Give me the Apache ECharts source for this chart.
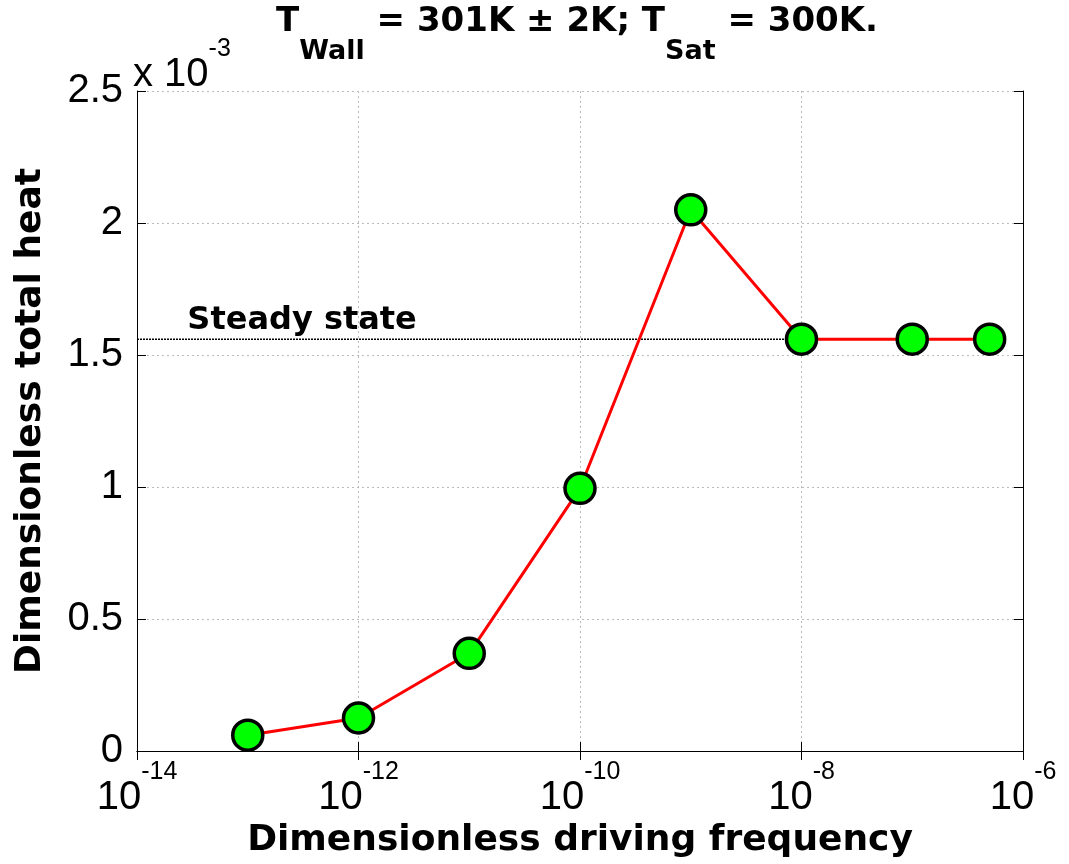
<!DOCTYPE html>
<html>
<head>
<meta charset="utf-8">
<script src="https://cdn.jsdelivr.net/npm/echarts@6/dist/echarts.min.js"></script>
<style>
html,body{margin:0;padding:0;background:#fff;}
#chart{width:1069px;height:864px;}
</style>
</head>
<body>
<div id="chart"></div>
<script>
// driving frequency (dimensionless) and total heat (dimensionless)
var freq = [1e-13, 1e-12, 1e-11, 1e-10, 1e-9, 1e-8, 1e-7, 5e-7];
var heat = [0.00006, 0.000125, 0.00037, 0.000995, 0.00205, 0.00156, 0.00156, 0.00156];
var steadyState = 0.00156;
var steadyFrom = [1e-14, 1e-8];

var FONT = '"Liberation Sans", Arial, Helvetica, sans-serif';
var BOLD = '"DejaVu Sans", "Liberation Sans", sans-serif';

var pts = [];
for (var i = 0; i < freq.length; i++) pts.push([freq[i], heat[i]]);

function xLabel(v){
	var e = Math.round(Math.log(v) / Math.LN10);
	return '{b|10}{s|' + e + '}';
}
function yLabel(v){
	return String(Math.round(v * 1e4) / 10);
}

var option = {
	backgroundColor: '#fff',
	animation: false,
	grid: {left: 137, right: 46, top: 91, bottom: 113, containLabel: false},
	xAxis: [{
		type: 'log',
		logBase: 10,
		min: 1e-14,
		max: 1e-6,
		interval: 2,
		name: 'Dimensionless driving frequency',
		nameLocation: 'middle',
		nameGap: 72,
		nameTextStyle: {fontFamily: BOLD, fontSize: 36, fontWeight: 'bold', color: '#000'},
		axisLine: {lineStyle: {color: '#000', width: 1}},
		axisTick: {inside: true, length: 9, lineStyle: {color: '#000'}},
		minorTick: {show: false},
		splitLine: {show: true, lineStyle: {color: '#bbb', type: [2, 3], width: 1}},
		axisLabel: {
			margin: 9,
			formatter: xLabel,
			rich: {
				b: {fontFamily: FONT, fontSize: 40, color: '#000', verticalAlign: 'bottom', lineHeight: 58},
				s: {fontFamily: FONT, fontSize: 25, color: '#000', verticalAlign: 'top', lineHeight: 58}
			}
		}
	}, {
		type: 'log',
		logBase: 10,
		min: 1e-14,
		max: 1e-6,
		interval: 2,
		position: 'top',
		axisLine: {lineStyle: {color: '#000', width: 1}},
		axisTick: {inside: true, length: 9, lineStyle: {color: '#000'}},
		axisLabel: {show: false},
		splitLine: {show: false}
	}],
	yAxis: [{
		type: 'value',
		min: 0,
		max: 0.0025,
		interval: 0.0005,
		name: 'Dimensionless total heat',
		nameLocation: 'middle',
		nameGap: 88,
		nameTextStyle: {fontFamily: BOLD, fontSize: 36, fontWeight: 'bold', color: '#000'},
		axisLine: {show: true, lineStyle: {color: '#000', width: 1}},
		axisTick: {show: true, inside: true, length: 9, lineStyle: {color: '#000'}},
		splitLine: {show: true, lineStyle: {color: '#bbb', type: [2, 3], width: 1}},
		axisLabel: {fontFamily: FONT, fontSize: 40, color: '#000', margin: 14, formatter: yLabel}
	}, {
		type: 'value',
		min: 0,
		max: 0.0025,
		interval: 0.0005,
		position: 'right',
		axisLine: {show: true, lineStyle: {color: '#000', width: 1}},
		axisTick: {show: true, inside: true, length: 9, lineStyle: {color: '#000'}},
		axisLabel: {show: false},
		splitLine: {show: false}
	}],
	graphic: [{
		// title with subscripts
		type: 'text',
		left: 276,
		top: 5,
		style: {
			text: '{t|T}{sub|Wall}{t| = 301K \u00b1 2K; T}{sub|Sat}{t| = 300K.}',
			rich: {
				t: {fontFamily: BOLD, fontSize: 34, fontWeight: 'bold', fill: '#000', lineHeight: 40, verticalAlign: 'top'},
				sub: {fontFamily: BOLD, fontSize: 27, fontWeight: 'bold', fill: '#000', lineHeight: 60, verticalAlign: 'bottom'}
			}
		}
	}, {
		// y exponent
		type: 'text',
		left: 133,
		top: 37,
		style: {
			text: '{m|x 10}{e|-3}',
			rich: {
				m: {fontFamily: FONT, fontSize: 40, fill: '#000', verticalAlign: 'bottom', lineHeight: 58},
				e: {fontFamily: FONT, fontSize: 25, fill: '#000', verticalAlign: 'top', lineHeight: 58}
			}
		}
	}],
	series: [{
		type: 'line',
		data: [[steadyFrom[0], steadyState], [steadyFrom[1], steadyState]],
		symbol: 'none',
		silent: true,
		lineStyle: {color: '#000', width: 1.5, type: [2, 1]},
		z: 1,
		markPoint: {
			symbol: 'rect',
			symbolSize: 1,
			itemStyle: {color: 'transparent'},
			data: [{
				coord: [3e-14, steadyState],
				label: {
					show: true,
					position: [-2, -34],
					formatter: 'Steady state',
					fontFamily: BOLD, fontSize: 32, fontWeight: 'bold', color: '#000'
				}
			}]
		}
	}, {
		type: 'line',
		data: pts,
		symbol: 'circle',
		symbolSize: 30,
		lineStyle: {color: '#ff0000', width: 3},
		itemStyle: {color: '#00ff00', borderColor: '#000', borderWidth: 3.5},
		z: 3
	}]
};

var myChart = echarts.init(document.getElementById('chart'));
myChart.setOption(option, true);
</script>
</body>
</html>
